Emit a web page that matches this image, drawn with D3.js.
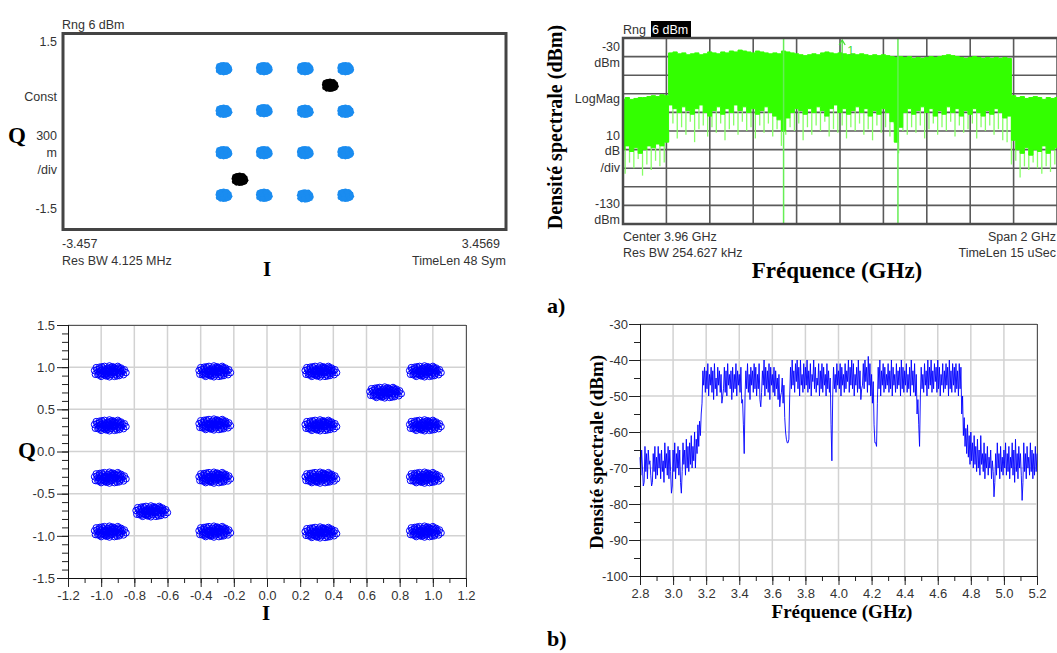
<!DOCTYPE html>
<html><head><meta charset="utf-8">
<script src="https://cdn.jsdelivr.net/npm/d3@7"></script>
<style>
html,body{margin:0;padding:0;background:#fff;}
svg{display:block;}
.vsa{font-family:"Liberation Sans",Arial,sans-serif;font-size:12.5px;fill:#333;}
.tick text{font-family:"Liberation Sans",Arial,sans-serif;font-size:13px;fill:#333;}
.ser{font-family:"Liberation Serif","Times New Roman",serif;font-weight:bold;fill:#000;}
</style>
</head><body>
<svg id="chart" width="1057" height="653"></svg>
<script>
// ---------------- DATA ----------------
// constellation cluster centres (16-QAM) and the two extra (black) clusters
const qamCentersI = [-0.95,-0.32,0.32,0.95, -0.95,-0.32,0.32,0.95, -0.95,-0.32,0.32,0.95, -0.95,-0.32,0.32,0.95];
const qamCentersQ = [0.95,0.95,0.95,0.95, 0.31,0.32,0.31,0.31, -0.31,-0.31,-0.31,-0.31, -0.95,-0.95,-0.96,-0.95];
const extraCentersI = [0.71,-0.70];
const extraCentersQ = [0.70,-0.71];
// symbol scatter offsets (dI, dQ) around each centre, read from cluster shapes
const scatterOffsets = [[0,0],[0.01,0.01],[-0.01,-0.01],[0.02,0],[-0.02,0],[0,0.02],[0,-0.02],[0.03,0.01],[-0.03,-0.01],[0.03,-0.02],
 [-0.03,0.02],[0.02,0.03],[-0.02,-0.03],[0.04,0],[-0.04,0],[0.01,-0.04],[-0.01,0.04],[0.04,0.03],[-0.04,-0.03],[0.05,-0.01],
 [-0.05,0.01],[0.02,-0.02],[-0.02,0.02],[0.05,0.03],[-0.05,-0.03],[0.03,0.04],[-0.03,-0.04],[0.06,0.01],[-0.06,-0.01],[0.06,-0.03],
 [-0.06,0.03],[0.01,0.05],[-0.01,-0.05],[0.04,-0.04],[-0.04,0.04],[0.055,0.045],[-0.055,-0.045],[0.07,0],[-0.07,0],[0.02,0.055],
 [-0.02,-0.055],[0.065,0.03],[-0.065,-0.03],[0.045,-0.055],[-0.045,0.055],[0.075,-0.02],[-0.075,0.02],[0.03,-0.06],[-0.03,0.06],[0.07,0.04],
 [-0.07,-0.04],[0.08,0.01],[-0.085,-0.035],[0.085,-0.04],[-0.08,0.045],[0,0.065],[0,-0.065],[0.05,0.06],[-0.05,-0.06],[0.09,0.02],
 [-0.09,0.01],[0.015,0.03],[-0.015,-0.03],[0.035,-0.01],[-0.035,0.01],[0.025,0.045],[-0.025,-0.045],[0.06,-0.05],[-0.06,0.05],[0.1,-0.015]];

// top-right analyzer trace (green), every 0.02 GHz from 2.96 to 4.96
const greenStart = 2.96, greenStep = 0.02;
const greenUpper = [
 -63,-62,-63,-62.5,-62,-62,-61.5,-61,-61.5,-60.5,-61,
 -38,-37.5,-38.5,-38,-39,-38.5,-38,-39,-38.5,-37.5,
 -38,-38.5,-37.5,-38,-37,-37.5,-36.5,-37,-37.5,-38,
 -37,-37.5,-38,-38.5,-38,-38.5,-37,-37.5,-38,-38.5,
 -39,-39.5,-39,-38.5,-39,-38,-37.5,-38,-38.5,-38,
 -38.5,-39,-38.5,-39,-38.5,-39,-39.5,-39,-39.5,-39,
 -39.5,-40,-40.5,-40,-40.5,-40,-41,-40.5,-41,-40.5,
 -40,-40.5,-40,-39.5,-39,-39.5,-40,-40.5,-41,-40.5,
 -40,-40.5,-41,-40.5,-41,-40.5,-41,-40.5,-41,
 -61,-62,-61.5,-62.5,-62,-61.5,-62,-63,-62,-62.5,-62];
const greenLower = [
 -90,-88,-91,-89,-92,-90,-88,-89,-87,-88,-86,
 -66,-68,-70,-67,-69,-71,-68,-66,-70,-72,
 -69,-67,-71,-68,-70,-66,-69,-67,-70,-68,
 -71,-69,-67,-70,-72,-74,-80,-73,-70,-68,
 -69,-71,-68,-70,-67,-69,-72,-68,-66,-70,
 -68,-71,-69,-67,-70,-68,-72,-69,-71,-68,
 -70,-75,-86,-78,-70,-68,-71,-69,-67,-70,
 -68,-72,-69,-71,-67,-70,-68,-72,-69,-71,
 -68,-70,-72,-69,-71,-68,-70,-73,-72,
 -85,-90,-92,-89,-93,-90,-91,-88,-92,-90,-89];
// downward spikes, every 0.02 GHz from 2.97 to 4.95
const greenSpikeStart = 2.97;
const greenSpikeV = [
 -103,-97,-100,-95,-104,-98,-101,-96,-99,-97,
 -80,-76,-84,-78,-82,-75,-86,-79,-77,-83,
 -78,-81,-76,-85,-79,-77,-82,-75,-80,-78,
 -84,-77,-81,-76,-83,-79,-88,-82,-78,-80,
 -76,-85,-78,-82,-77,-80,-75,-83,-79,-81,
 -77,-84,-78,-80,-76,-82,-79,-85,-77,-81,
 -78,-83,-76,-92,-80,-82,-78,-81,-77,-84,
 -79,-76,-82,-78,-80,-75,-83,-77,-81,-79,
 -76,-84,-78,-80,-77,-82,-79,-85,-86,
 -98,-96,-105,-99,-101,-97,-100,-103,-99,-102,-98];
const greenMarkers = [3.70, 4.227];

// bottom-right simulated spectrum (blue): peaks every 0.01 GHz from 2.800, troughs every 0.01 GHz from 2.805
const blueStart = 2.80, blueStep = 0.01;
const bluePeaks = [
 -67,-65,-75,-64,-66,-65,-68,-75,-66,-64,
 -67,-64,-66,-65,-68,-63,-66,-64,-65,-77,
 -65,-63,-66,-64,-65,-77,-63,-65,-62,-64,
 -63,-61,-64,-60,-62,-58,-57,-55,-43,-42,
 -43,-41,-44,-42,-43,-41,-45,-42,-43,-44,
 -50,-42,-43,-41,-44,-43,-42,-44,-41,-43,
 -44,-42,-51,-66,-43,-41,-44,-42,-43,-41,
 -42,-44,-41,-53,-43,-40,-42,-43,-41,-42,
 -44,-42,-43,-45,-44,-50,-45,-47,-60,-63,
 -62,-42,-40,-43,-41,-40,-42,-40,-44,-41,
 -42,-40,-43,-41,-44,-40,-42,-45,-41,-43,
 -41,-42,-44,-41,-43,-45,-68,-42,-44,-41,
 -43,-41,-42,-44,-41,-43,-40,-42,-40,-41,
 -44,-42,-40,-43,-48,-41,-40,-42,-39,-41,
 -44,-46,-63,-64,-42,-40,-43,-41,-42,-44,
 -41,-43,-40,-42,-44,-41,-43,-42,-40,-42,
 -43,-41,-44,-42,-40,-43,-41,-44,-51,-64,
 -42,-44,-41,-43,-40,-42,-40,-43,-41,-42,
 -40,-42,-44,-41,-43,-41,-42,-40,-43,-41,
 -42,-41,-43,-41,-42,-50,-56,-59,-58,-61,
 -60,-63,-61,-64,-62,-65,-61,-66,-63,-66,
 -64,-67,-65,-68,-78,-66,-63,-66,-64,-67,
 -65,-63,-66,-64,-67,-63,-65,-62,-66,-64,
 -66,-79,-63,-66,-64,-67,-63,-65,-66,-64,
 -66];
const blueTroughs = [
 -72,-70,-74,-71,-73,-69,-72,-74,-71,-73,
 -72,-70,-73,-71,-74,-70,-72,-73,-71,-75,
 -71,-73,-70,-72,-74,-71,-69,-72,-70,-71,
 -69,-70,-68,-70,-66,-64,-61,-52,-47,-49,
 -48,-50,-47,-49,-51,-48,-50,-47,-49,-52,
 -48,-49,-50,-47,-48,-51,-49,-48,-50,-47,
 -49,-52,-58,-50,-48,-49,-51,-47,-49,-48,
 -50,-48,-51,-49,-47,-50,-48,-49,-51,-47,
 -49,-50,-48,-51,-53,-49,-52,-56,-62,-63,
 -50,-48,-47,-49,-46,-48,-50,-47,-49,-48,
 -47,-49,-48,-50,-46,-48,-49,-47,-50,-48,
 -49,-47,-50,-48,-49,-58,-50,-48,-49,-47,
 -48,-50,-47,-49,-48,-46,-49,-47,-48,-50,
 -47,-49,-48,-51,-47,-48,-46,-49,-47,-50,
 -52,-58,-63,-52,-48,-50,-47,-49,-48,-47,
 -49,-48,-50,-47,-49,-48,-47,-50,-48,-49,
 -47,-49,-48,-50,-47,-49,-50,-55,-58,-50,
 -48,-49,-47,-50,-48,-47,-49,-48,-46,-49,
 -48,-50,-47,-49,-48,-47,-50,-48,-49,-47,
 -49,-48,-50,-48,-55,-61,-64,-66,-67,-69,
 -68,-70,-69,-71,-70,-72,-69,-71,-73,-70,
 -72,-70,-73,-71,-74,-72,-70,-73,-71,-72,
 -70,-72,-71,-73,-70,-72,-74,-71,-73,-70,
 -72,-74,-71,-73,-70,-72,-71,-73,-72,-71];

// tick labels / annotation texts
const iqTicksX = [-1.2,-1.0,-0.8,-0.6,-0.4,-0.2,0.0,0.2,0.4,0.6,0.8,1.0,1.2];
const iqTicksY = [-1.5,-1.0,-0.5,0.0,0.5,1.0,1.5];
const freqTicks = [2.8,3.0,3.2,3.4,3.6,3.8,4.0,4.2,4.4,4.6,4.8,5.0,5.2];
const dbmTicks = [-100,-90,-80,-70,-60,-50,-40,-30];
const vsaConstLeft = ["Const","300","m","/div"];
const vsaSpecLeft = ["-30","dBm","LogMag","10","dB","/div","-130","dBm"];

// ---------------- DRAW ----------------
const svg = d3.select("#chart");
svg.append("rect").attr("width",1057).attr("height",653).attr("fill","#fff");
const fmt1 = d => d3.format(".1f")(d).replace("\u2212","-");
const fmt0 = d => d3.format("d")(d).replace("\u2212","-");
const range = (a,b,s) => d3.range(Math.round((b-a)/s)+1).map(i => +(a+i*s).toFixed(4));

function buildPoints(ci, cq){
  const pts=[];
  ci.forEach((c,k)=>scatterOffsets.forEach(o=>pts.push([c+o[0], cq[k]+o[1]])));
  return pts;
}

// ===== (a) left : VSA constellation =====
{
  const x = d3.scaleLinear().domain([-3.457,3.4569]).range([63,506]);
  const y = d3.scaleLinear().domain([-1.5,1.5]).range([232,32]);
  const g = svg.append("g");
  const dots = g.append("g");
  dots.selectAll("circle.q").data(buildPoints(qamCentersI,qamCentersQ)).join("circle")
    .attr("cx",d=>x(d[0])).attr("cy",d=>y(d[1])).attr("r",2.4).attr("fill","#1a8cf0");
  dots.selectAll("circle.e").data(buildPoints(extraCentersI,extraCentersQ)).join("circle")
    .attr("cx",d=>x(d[0])).attr("cy",d=>y(d[1])).attr("r",2.4).attr("fill","#000");
  g.append("rect").attr("x",x.range()[0]).attr("y",33.5).attr("width",x.range()[1]-x.range()[0]).attr("height",196)
    .attr("fill","none").attr("stroke","#444").attr("stroke-width",3);
  g.append("text").attr("class","vsa").attr("x",62).attr("y",29).text("Rng 6 dBm");
  g.append("text").attr("class","vsa").attr("x",57).attr("y",y(1.5)+14).attr("text-anchor","end").text("1.5");
  g.append("text").attr("class","vsa").attr("x",57).attr("y",y(-1.5)-19).attr("text-anchor","end").text("-1.5");
  const ly=[101,140,157,174];
  vsaConstLeft.forEach((t,i)=>g.append("text").attr("class","vsa").attr("x",57).attr("y",ly[i]).attr("text-anchor","end").text(t));
  g.append("text").attr("class","vsa").attr("x",62).attr("y",248).text("-3.457");
  g.append("text").attr("class","vsa").attr("x",500).attr("y",248).attr("text-anchor","end").text("3.4569");
  g.append("text").attr("class","vsa").attr("x",62).attr("y",265).text("Res BW 4.125 MHz");
  g.append("text").attr("class","vsa").attr("x",506).attr("y",265).attr("text-anchor","end").text("TimeLen 48  Sym");
  g.append("text").attr("class","ser").attr("x",8).attr("y",143).attr("font-size",23).text("Q");
  g.append("text").attr("class","ser").attr("x",263).attr("y",276).attr("font-size",21).text("I");
}

// ===== (a) right : VSA spectrum (green) =====
{
  const x = d3.scaleLinear().domain([2.96,4.96]).range([623,1057]);
  const y = d3.scaleLinear().domain([-130,-30]).range([224,38]);
  const g = svg.append("g");
  svg.append("clipPath").attr("id","clipG").append("rect").attr("x",623).attr("y",38).attr("width",434).attr("height",186);
  const gx = range(2.96,4.96,0.2), gy = range(-130,-30,10);
  g.append("g").selectAll("line").data(gx).join("line")
    .attr("x1",d=>x(d)).attr("x2",d=>x(d)).attr("y1",38).attr("y2",224).attr("stroke","#5a5a5a").attr("stroke-width",1.6);
  g.append("g").selectAll("line").data(gy).join("line")
    .attr("y1",d=>y(d)).attr("y2",d=>y(d)).attr("x1",623).attr("x2",1057).attr("stroke","#5a5a5a").attr("stroke-width",1.6);
  const tr = g.append("g").attr("clip-path","url(#clipG)");
  const spikes = greenSpikeV.map((v,i)=>({f:greenSpikeStart+i*greenStep, v, l:greenLower[Math.min(i,greenLower.length-1)]}));
  tr.selectAll("line.sp").data(spikes).join("line")
    .attr("x1",d=>x(d.f)).attr("x2",d=>x(d.f)).attr("y1",d=>y(d.l)).attr("y2",d=>y(d.v))
    .attr("stroke","#86ff66").attr("stroke-width",1.3);
  const gdata = greenUpper.map((u,i)=>({f:greenStart+i*greenStep,u,l:greenLower[i]}));
  tr.append("path").datum(gdata)
    .attr("d",d3.area().x(d=>x(d.f)).y0(d=>y(d.l)).y1(d=>y(d.u)).curve(d3.curveStep))
    .attr("fill","#33ff00").attr("stroke","#33ff00").attr("stroke-width",1);
  tr.selectAll("line.mk").data(greenMarkers).join("line")
    .attr("x1",d=>x(d)).attr("x2",d=>x(d)).attr("y1",38).attr("y2",224).attr("stroke","#66ee55").attr("stroke-width",1.5);
  g.append("line").attr("x1",x(3.97)).attr("x2",x(3.97)).attr("y1",41).attr("y2",60).attr("stroke","#44dd33").attr("stroke-width",1.2);
  g.append("path").attr("d",`M${x(3.97)-3},45 L${x(3.97)},40 L${x(3.97)+3},45`).attr("fill","none").attr("stroke","#44dd33").attr("stroke-width",1.2);
  g.append("text").attr("class","vsa").attr("x",x(3.97)+5).attr("y",55).style("fill","#44dd33").text("1");
  g.append("rect").attr("x",623).attr("y",38).attr("width",440).attr("height",186)
    .attr("fill","none").attr("stroke","#4a4a4a").attr("stroke-width",2.5);
  g.append("text").attr("class","vsa").attr("x",623).attr("y",34).text("Rng");
  g.append("rect").attr("x",651).attr("y",21).attr("width",40).attr("height",16).attr("fill","#000");
  g.append("text").attr("class","vsa").attr("x",652).attr("y",34).style("fill","#fff").text("6 dBm");
  const ly=[51,67,103,140,155,172,208,224];
  vsaSpecLeft.forEach((t,i)=>g.append("text").attr("class","vsa").attr("x",620).attr("y",ly[i]).attr("text-anchor","end").text(t));
  g.append("text").attr("class","vsa").attr("x",623).attr("y",241).text("Center 3.96 GHz");
  g.append("text").attr("class","vsa").attr("x",623).attr("y",257).text("Res BW 254.627 kHz");
  g.append("text").attr("class","vsa").attr("x",1056).attr("y",241).attr("text-anchor","end").text("Span 2 GHz");
  g.append("text").attr("class","vsa").attr("x",1056).attr("y",257).attr("text-anchor","end").text("TimeLen 15 uSec");
  g.append("text").attr("class","ser").attr("x",837).attr("y",278).attr("text-anchor","middle").attr("font-size",23).text("Fréquence (GHz)");
  g.append("text").attr("class","ser").attr("transform","translate(562,127) rotate(-90)").attr("text-anchor","middle").attr("font-size",20).text("Densité spectrale (dBm)");
}

// ===== (b) left : simulated constellation =====
{
  const x = d3.scaleLinear().domain([-1.2,1.2]).range([68,466]);
  const y = d3.scaleLinear().domain([-1.5,1.5]).range([578,325]);
  const g = svg.append("g");
  g.append("g").selectAll("line").data(range(-1.0,1.2,0.2)).join("line")
    .attr("x1",d=>x(d)).attr("x2",d=>x(d)).attr("y1",325).attr("y2",578).attr("stroke","#d2d2d2").attr("stroke-width",1.5);
  g.append("g").selectAll("line").data(range(-1.0,1.5,0.5)).join("line")
    .attr("y1",d=>y(d)).attr("y2",d=>y(d)).attr("x1",68).attr("x2",466).attr("stroke","#d2d2d2").attr("stroke-width",1.5);
  g.append("line").attr("x1",68).attr("x2",466).attr("y1",325.5).attr("y2",325.5).attr("stroke","#555");
  g.append("line").attr("x1",466.5).attr("x2",466.5).attr("y1",325).attr("y2",578).attr("stroke","#555");
  const pts = buildPoints(qamCentersI,qamCentersQ).concat(buildPoints(extraCentersI,extraCentersQ));
  g.append("g").selectAll("circle").data(pts).join("circle")
    .attr("cx",d=>x(d[0])).attr("cy",d=>y(d[1])).attr("r",3.2).attr("fill","none").attr("stroke","#0000ff").attr("stroke-width",1);
  const ax = g.append("g").attr("transform","translate(0,578)");
  ax.call(d3.axisBottom(x).tickValues(range(-1.2,1.2,0.1)).tickSize(5).tickFormat("")).select(".domain").remove();
  const ax2 = g.append("g").attr("transform","translate(0,578)");
  ax2.call(d3.axisBottom(x).tickValues(iqTicksX).tickSize(9).tickPadding(4).tickFormat(fmt1)).select(".domain").remove();
  const ay = g.append("g").attr("transform","translate(68,0)");
  ay.call(d3.axisLeft(y).tickValues(range(-1.5,1.5,0.1)).tickSize(6).tickFormat("")).select(".domain").remove();
  const ay2 = g.append("g").attr("transform","translate(68,0)");
  ay2.call(d3.axisLeft(y).tickValues(iqTicksY).tickSize(11).tickPadding(2).tickFormat(fmt1)).select(".domain").remove();
  g.selectAll(".tick line").attr("stroke","#222");
  g.append("line").attr("x1",68).attr("x2",466).attr("y1",578.5).attr("y2",578.5).attr("stroke","#111");
  g.append("line").attr("x1",68.5).attr("x2",68.5).attr("y1",325).attr("y2",578).attr("stroke","#111");
  g.append("text").attr("class","ser").attr("x",18).attr("y",458).attr("font-size",23).text("Q");
  g.append("text").attr("class","ser").attr("x",262).attr("y",620).attr("font-size",21).text("I");
}

// ===== (b) right : simulated spectrum (blue) =====
{
  const x = d3.scaleLinear().domain([2.8,5.2]).range([640,1037]);
  const y = d3.scaleLinear().domain([-100,-30]).range([576,324]);
  const g = svg.append("g");
  g.append("g").selectAll("line").data(range(3.0,5.2,0.2)).join("line")
    .attr("x1",d=>x(d)).attr("x2",d=>x(d)).attr("y1",324).attr("y2",576).attr("stroke","#d2d2d2").attr("stroke-width",1.5);
  g.append("g").selectAll("line").data(range(-90,-30,10)).join("line")
    .attr("y1",d=>y(d)).attr("y2",d=>y(d)).attr("x1",640).attr("x2",1037).attr("stroke","#d2d2d2").attr("stroke-width",1.5);
  g.append("line").attr("x1",640).attr("x2",1037).attr("y1",324.5).attr("y2",324.5).attr("stroke","#555");
  g.append("line").attr("x1",1037.5).attr("x2",1037.5).attr("y1",324).attr("y2",576).attr("stroke","#555");
  const bdata = [];
  bluePeaks.forEach((v,i)=>{
    bdata.push([blueStart+i*blueStep, v]);
    if (i < blueTroughs.length) bdata.push([blueStart+(i+0.5)*blueStep, blueTroughs[i]]);
  });
  g.append("path").datum(bdata).attr("d",d3.line().x(d=>x(d[0])).y(d=>y(d[1])))
    .attr("fill","none").attr("stroke","#0000ff").attr("stroke-width",0.9).attr("stroke-linejoin","round");
  const ax = g.append("g").attr("transform","translate(0,576)");
  ax.call(d3.axisBottom(x).tickValues(range(2.8,5.2,0.1)).tickSize(5).tickFormat("")).select(".domain").remove();
  const ax2 = g.append("g").attr("transform","translate(0,576)");
  ax2.call(d3.axisBottom(x).tickValues(freqTicks).tickSize(9).tickPadding(4).tickFormat(fmt1)).select(".domain").remove();
  const ay = g.append("g").attr("transform","translate(640,0)");
  ay.call(d3.axisLeft(y).tickValues(range(-100,-30,5)).tickSize(6).tickFormat("")).select(".domain").remove();
  const ay2 = g.append("g").attr("transform","translate(640,0)");
  ay2.call(d3.axisLeft(y).tickValues(dbmTicks).tickSize(11).tickPadding(1).tickFormat(fmt0)).select(".domain").remove();
  g.selectAll(".tick line").attr("stroke","#222");
  g.append("line").attr("x1",640).attr("x2",1037).attr("y1",576.5).attr("y2",576.5).attr("stroke","#111");
  g.append("line").attr("x1",640.5).attr("x2",640.5).attr("y1",324).attr("y2",576).attr("stroke","#111");
  g.append("text").attr("class","ser").attr("x",842).attr("y",618).attr("text-anchor","middle").attr("font-size",19).text("Fréquence (GHz)");
  g.append("text").attr("class","ser").attr("transform","translate(603,452) rotate(-90)").attr("text-anchor","middle").attr("font-size",19).text("Densité spectrale (dBm)");
}

svg.append("text").attr("class","ser").attr("x",547).attr("y",313).attr("font-size",22).text("a)");
svg.append("text").attr("class","ser").attr("x",547).attr("y",646).attr("font-size",22).text("b)");
</script>
</body></html>
